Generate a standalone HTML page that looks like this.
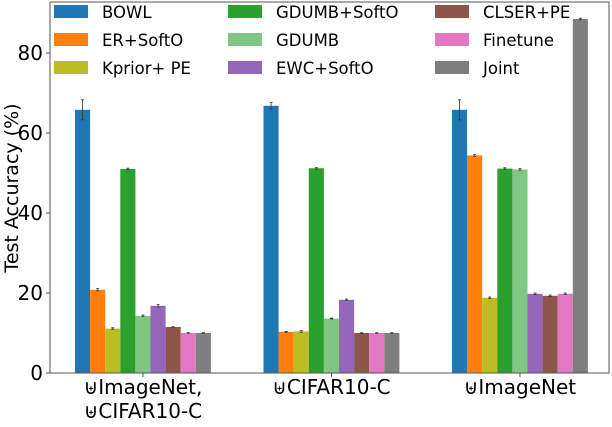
<!DOCTYPE html>
<html><head><meta charset="utf-8"><style>
body{margin:0;background:#fff}
svg text{font-family:"DejaVu Sans","Liberation Sans",sans-serif}
</style></head><body>
<svg id="c" width="612" height="422"></svg>
<script>
const categories=[["⊎ImageNet,","⊎CIFAR10-C"],["⊎CIFAR10-C"],["⊎ImageNet"]];
const methods=["BOWL","ER+SoftO","Kprior+ PE","GDUMB+SoftO","GDUMB","EWC+SoftO","CLSER+PE","Finetune","Joint"];
const colors=["#1f77b4","#ff7f0e","#bcbd22","#2ca02c","#81c784","#9467bd","#8c564b","#e377c2","#7f7f7f"];
const valuesG1=[65.8,20.8,11.1,51.0,14.3,16.8,11.5,10.0,10.0];
const valuesG2=[66.8,10.3,10.4,51.2,13.6,18.3,10.0,10.0,10.0];
const valuesG3=[65.8,54.4,18.8,51.1,50.9,19.8,19.3,19.8,88.5];
const errorsG1=[2.5,0.3,0.2,0.2,0.2,0.3,0.1,0.1,0.1];
const errorsG2=[0.8,0.1,0.2,0.2,0.1,0.2,0.1,0.1,0.1];
const errorsG3=[2.5,0.2,0.2,0.2,0.2,0.2,0.2,0.2,0.2];
const yTicks=[0,20,40,60,80];
const values=[valuesG1,valuesG2,valuesG3],errors=[errorsG1,errorsG2,errorsG3];
const svg=document.getElementById('c');const NS="http://www.w3.org/2000/svg";
function el(t,a,p){const e=document.createElementNS(NS,t);for(const k in a)e.setAttribute(k,a[k]);(p||svg).appendChild(e);return e;}
const x0=50,x1=609,yTop=2,yBot=373,k=4.0;
const y=v=>yBot-v*k;
const bw=15.1,gStart=75,gStep=188.5;
const gx=(g,i)=>gStart+g*gStep+i*bw;
values.forEach((vals,g)=>vals.forEach((v,i)=>{
 const r=el('rect',{x:gx(g,i),y:y(v),width:bw,height:v*k,fill:colors[i]});
 
 
 const cx=gx(g,i)+bw/2,e=errors[g][i];
 const l=el('path',{d:`M${cx},${y(v+e)}V${y(v-e)}M${cx-1.5},${y(v+e)}h3M${cx-1.5},${y(v-e)}h3`,stroke:'#333','stroke-width':0.8});
 
 
}));
const ax=el('path',{d:`M${x0},${yTop}V${yBot}H${x1}V${yTop}H${x0}`,fill:'none',stroke:'#555','stroke-width':1});


yTicks.forEach(t=>{
 el('line',{x1:x0-4,x2:x0,y1:y(t),y2:y(t),stroke:'#555'});
 const tx=el('text',{x:x0-7,y:y(t)+7,'text-anchor':'end','font-size':20});tx.textContent=t;
 
 
});
categories.forEach((lines,g)=>{
 const cx=gx(g,0)+bw*4.5;
 el('line',{x1:cx,x2:cx,y1:yBot,y2:yBot+4,stroke:'#555'});
 lines.forEach((s,j)=>{
  const t=el('text',{x:cx,y:yBot+21+j*24,'text-anchor':'middle','font-size':20});t.textContent=s;
  
  
 });
});
const yt=el('text',{transform:'translate(18,188) rotate(-90)','text-anchor':'middle','font-size':19});yt.textContent='Test Accuracy (%)';


const colX=[54,228,435];
methods.forEach((m,i)=>{
 const c=Math.floor(i/3),r=i%3,yy=5+r*28;
 const g=el('g',{});
 
 
 el('rect',{x:colX[c],y:yy,width:34,height:13,fill:colors[i]},g);
 const t=el('text',{x:colX[c]+48,y:yy+13,'font-size':16.5},g);t.textContent=m;
});
</script>
</body></html>
